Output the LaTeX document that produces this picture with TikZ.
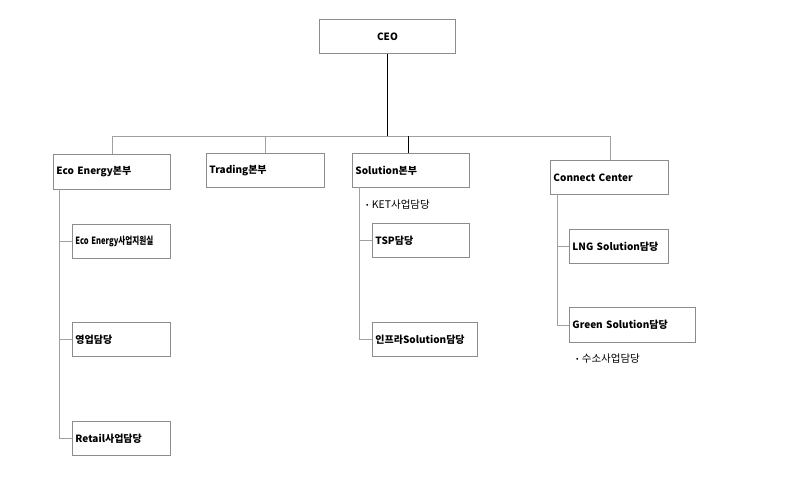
\documentclass[tikz,border=0pt]{standalone}
\usepackage{fontspec}
\setmainfont{Noto Sans CJK KR}
\usepackage{graphicx}
\definecolor{boxgray}{HTML}{8C8C8C}
\definecolor{linegray}{HTML}{A0A0A0}
\newcommand{\mybullet}{\raisebox{0.17em}{\scalebox{0.7}{•}}\hspace{0.3em}}
\tikzset{
  box/.style={draw=boxgray, line width=0.9pt, anchor=north west, inner xsep=3pt, inner ysep=0pt, align=left, font=\fontsize{10}{12}\selectfont\bfseries},
  conn/.style={draw=linegray, line width=0.9pt},
  mainconn/.style={draw=black, line width=0.9pt},
  note/.style={anchor=west, inner sep=0pt, font=\fontsize{10.5}{12}\selectfont}
}
\begin{document}
\begin{tikzpicture}[x=1pt,y=-1pt]
\useasboundingbox (0,0) rectangle (791,501);
% CEO
\node[box, align=center, text width=130, minimum height=34] (ceo) at (319,19) {CEO};
% first level
\node[box, text width=111, minimum height=35] (eco) at (53,154) {Eco Energy본부};
\node[box, text width=112, minimum height=34] (trd) at (206,153) {Trading본부};
\node[box, text width=111, minimum height=34] (sol) at (352,153) {Solution본부};
\node[box, text width=112, minimum height=34] (con) at (550,160) {Connect Center};
% Eco children
\node[box, text width=92, minimum height=34] (eco1) at (72,224) {\scalebox{0.76}[1]{Eco Energy사업지원실}};
\node[box, text width=92, minimum height=34] (eco2) at (72,322) {영업담당};
\node[box, text width=92, minimum height=34] (eco3) at (72,421) {Retail사업담당};
% Solution children
\node[note] (ket) at (366,205) {\mybullet KET사업담당};
\node[box, text width=91, minimum height=34] (sol1) at (372,223) {TSP담당};
\node[box, text width=99, minimum height=34] (sol2) at (372,322) {인프라Solution담당};
% Connect children
\node[box, text width=93, minimum height=34] (con1) at (569,229) {LNG Solution담당};
\node[box, text width=120, minimum height=35] (con2) at (569,307) {Green Solution담당};
\node[note] (h2) at (576,359) {\mybullet 수소사업담당};
% bus
\coordinate (busL) at (112,136);
\coordinate (busR) at (610,136);
\coordinate (busC) at (408,136);
\draw[conn] (busL) -- (busR);
\draw[mainconn] (ceo.south) -- (ceo.south |- busL);
\draw[conn] (busL) -- (busL |- eco.north);
\draw[conn] (trd.north |- busL) -- (trd.north);
\draw[mainconn] (busC) -- (busC |- sol.north);
\draw[conn] (busR) -- (busR |- con.north);
% Eco branch
\coordinate (ecoV) at (59,189);
\draw[conn] (ecoV) |- (eco3.west);
\draw[conn] (ecoV |- eco1.west) -- (eco1.west);
\draw[conn] (ecoV |- eco2.west) -- (eco2.west);
% Solution branch
\coordinate (solV) at (359,187);
\draw[conn] (solV) |- (sol2.west);
\draw[conn] (solV |- sol1.west) -- (sol1.west);
% Connect branch
\coordinate (conV) at (557,194);
\draw[conn] (conV) |- (con2.west);
\draw[conn] (conV |- con1.west) -- (con1.west);
\end{tikzpicture}
\end{document}
